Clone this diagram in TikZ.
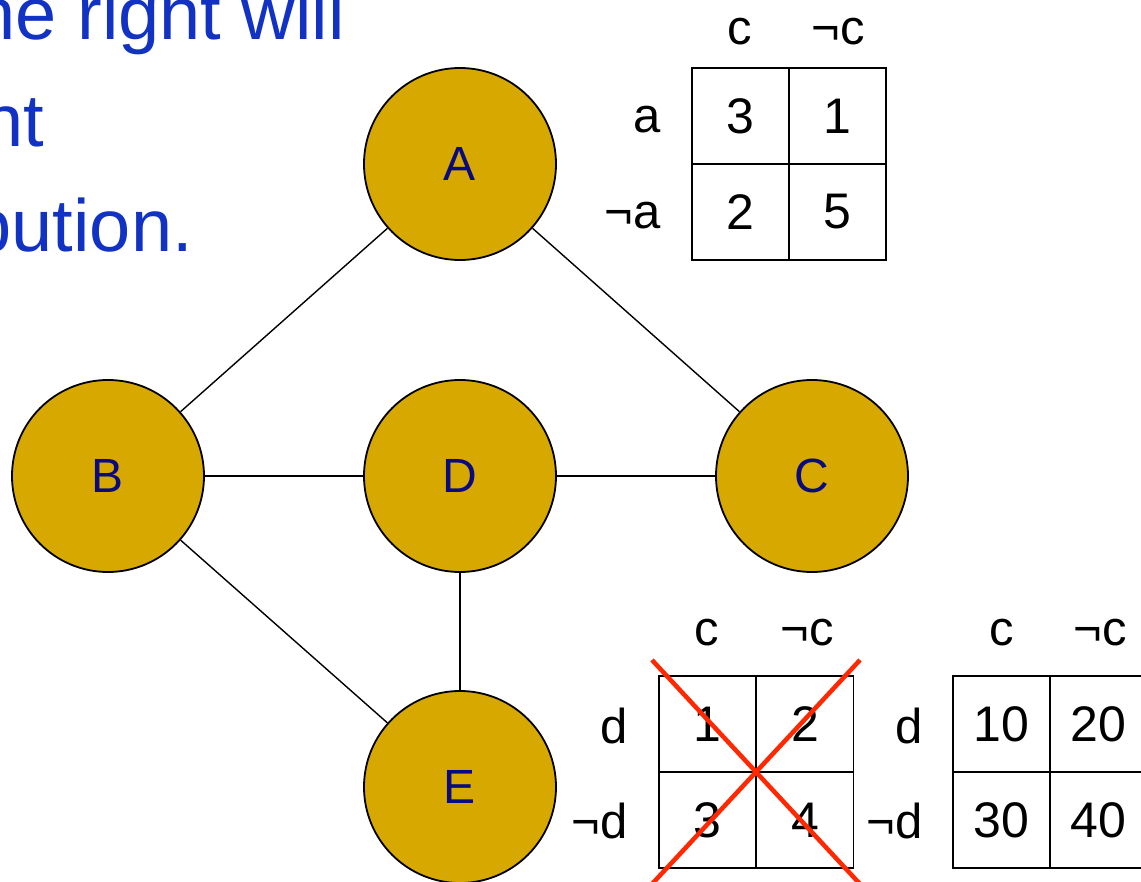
\documentclass[tikz,border=0pt]{standalone}
\usepackage{fontspec}
\setmainfont{Liberation Sans}
\definecolor{slideblue}{RGB}{18,50,196}
\definecolor{nodegold}{RGB}{214,168,0}
\definecolor{nodetext}{RGB}{10,10,128}
\definecolor{crossred}{RGB}{255,40,0}
\begin{document}
\begin{tikzpicture}[x=1pt,y=-1pt,
  vertex/.style={circle,draw=black,line width=1.8pt,fill=nodegold,minimum size=192pt,inner sep=0pt,
    text=nodetext,font=\fontsize{48}{56}\selectfont},
  link/.style={draw=black,line width=1.4pt},
  cell/.style={rectangle,draw=black,line width=1.8pt,minimum width=97pt,minimum height=96pt,inner sep=0pt,
    font=\fontsize{50}{58}\selectfont},
  lab/.style={inner sep=0pt,font=\fontsize{49}{58}\selectfont},
  slidetext/.style={inner sep=0pt,anchor=base east,text=slideblue,font=\fontsize{74}{88}\selectfont},
  redx/.style={draw=crossred,line width=4.5pt}]
\useasboundingbox (0,0) rectangle (1141,882);
% clipped slide text
\node[slidetext] (t1) at (345,40) {he right will};
\node[slidetext] (t2) at (44,147) {nt};
\node[slidetext] (t3) at (193,252) {bution.};
% graph
\node[vertex] (A) at (460,164) {A};
\node[vertex] (B) at (108,476) {B};
\node[vertex] (D) at (460,476) {D};
\node[vertex] (C) at (812,476) {C};
\node[vertex] (E) at (460,787) {E};
\draw[link] (A) -- (B);
\draw[link] (A) -- (C);
\draw[link] (B) -- (D);
\draw[link] (D) -- (C);
\draw[link] (D) -- (E);
\draw[link] (B) -- (E);
% table 1
\node[lab,anchor=base] (h1c) at (740,45) {c};
\node[lab,anchor=base] (h1n) at (838,45) {¬c};
\node[lab,anchor=base east] (r1a) at (661,133) {a};
\node[lab,anchor=base east] (r1n) at (661,229) {¬a};
\node[cell] (p11) at (740.5,116) {3};
\node[cell] (p12) at (837.5,116) {1};
\node[cell] (p21) at (740.5,212) {2};
\node[cell] (p22) at (837.5,212) {5};
% table 2 (crossed out)
\node[lab,anchor=base] (h2c) at (707,645) {c};
\node[lab,anchor=base] (h2n) at (807,645) {¬c};
\node[lab,anchor=base east] (r2d) at (628,743) {d};
\node[lab,anchor=base east] (r2n) at (628,838) {¬d};
\node[cell] (q11) at (707.5,724) {1};
\node[cell] (q12) at (805,724) {2};
\node[cell] (q21) at (707.5,820) {3};
\node[cell] (q22) at (805,820) {4};
\coordinate (x1) at (652,660);
\coordinate (x2) at (860,884);
\coordinate (x3) at (860,660);
\coordinate (x4) at (652,884);
\draw[redx] (x1) -- (x2);
\draw[redx] (x3) -- (x4);
% table 3
\node[lab,anchor=base] (h3c) at (1002,645) {c};
\node[lab,anchor=base] (h3n) at (1100,645) {¬c};
\node[lab,anchor=base east] (r3d) at (923,743) {d};
\node[lab,anchor=base east] (r3n) at (923,838) {¬d};
\node[cell] (s11) at (1001.5,724) {10};
\node[cell] (s12) at (1098.5,724) {20};
\node[cell] (s21) at (1001.5,820) {30};
\node[cell] (s22) at (1098.5,820) {40};
\end{tikzpicture}
\end{document}
